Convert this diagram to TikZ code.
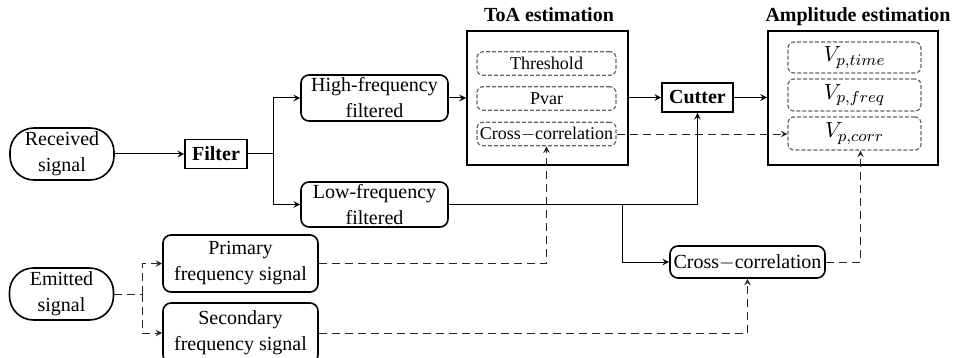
\documentclass[tikz,border=0pt]{standalone}
\usepackage{fontspec}
\setmainfont{Liberation Serif}
\usetikzlibrary{positioning}
\begin{document}
\begin{tikzpicture}[x=0.5pt, y=-0.5pt, >=stealth, line width=0.5pt,
        every node/.style={font=\fontsize{10}{13}\selectfont, align=center, inner sep=1pt},
        pill/.style={draw, line width=0.8pt, rounded corners=12pt, minimum width=52pt, minimum height=26pt},
        blk/.style={draw, line width=0.8pt, rounded corners=4pt, minimum width=77.5pt},
        sqbox/.style={draw, line width=0.8pt, font=\fontsize{10}{13}\selectfont\bfseries, minimum height=14.5pt},
        group/.style={draw, line width=1pt, minimum width=80.5pt, minimum height=67pt},
        sub/.style={draw, gray!80!black, text=black, line width=0.6pt, dash pattern=on 2pt off 1pt,
                    rounded corners=3pt, font=\fontsize{9}{11}\selectfont},
        dashline/.style={line width=0.45pt, black!85, dash pattern=on 4pt off 2.5pt}]
    \clip (0,0) rectangle (954,358);
    \node[pill] (recv) at (62,154) {Received\\signal};
    \node[pill] (emit) at (61.5,294) {Emitted\\signal};
    \node[sqbox, minimum width=31pt] (filter) at (216,154) {Filter};
    \node[blk, minimum width=73.5pt, minimum height=23pt] (high) at (374.5,98) {High-frequency\\filtered};
    \node[blk, minimum width=73.5pt, minimum height=22.5pt] (low) at (374.5,204.5) {Low-frequency\\filtered};
    \node[blk, minimum height=28.5pt] (primary) at (240.5,263.5) {Primary\\frequency signal};
    \node[blk, minimum height=30pt] (secondary) at (240.5,333) {Secondary\\frequency signal};
    \node[group] (toa) at (547.5,98) {};
    \node[font=\fontsize{10}{12}\selectfont\bfseries] (toatitle) at (549,15) {ToA estimation};
    \node[sub, minimum width=69.5pt, minimum height=11.75pt] (thres) at (546.5,63.5) {Threshold};
    \node[sub, minimum width=69.5pt, minimum height=11.75pt] (pvar) at (546.5,98.5) {Pvar};
    \node[sub, minimum width=69.5pt, minimum height=11.75pt] (tcorr) at (546.5,134) {Cross$-$correlation};
    \node[sqbox, minimum width=35.5pt] (cutter) at (697.5,97.5) {Cutter};
    \node[group, minimum width=85pt] (amp) at (853,98) {};
    \node[font=\fontsize{10}{12}\selectfont\bfseries] (amptitle) at (858,17) {Amplitude estimation};
    \node[sub, minimum width=66.5pt, minimum height=15.5pt, font=\fontsize{11}{13}\selectfont] (atime) at (854.5,57.5) {$V_{p,time}$};
    \node[sub, minimum width=66.5pt, minimum height=16pt, font=\fontsize{11}{13}\selectfont] (afreq) at (854.5,95) {$V_{p,freq}$};
    \node[sub, minimum width=66.5pt, minimum height=16.5pt, font=\fontsize{11}{13}\selectfont] (acorr) at (854.5,133.5) {$V_{p,corr}$};
    \node[blk, minimum height=16pt] (xcorr) at (747.5,262) {Cross$-$correlation};
    \coordinate (split) at (273,154);
    \coordinate (lowsplit) at (622,204);
    \coordinate (esplit) at (142,294);
    \draw[->] (recv) -- (filter);
    \draw (filter) -- (split);
    \draw[->] (split) |- (high);
    \draw[->] (split) |- (low);
    \draw[->] (high) -- (high -| toa.west);
    \draw[->] (toa.east |- cutter) -- (cutter);
    \draw[->] (cutter) -- (cutter -| amp.west);
    \draw[->] (low) -| (cutter);
    \draw[->] (lowsplit) |- (xcorr);
    \draw[dashline, ->] (tcorr) -- (tcorr -| acorr.west);
    \draw[dashline, ->] (xcorr) -| ([xshift=3pt]acorr.south);
    \draw[dashline, ->] (primary) -| (tcorr);
    \draw[dashline, ->] (secondary) -| (xcorr);
    \draw[dashline] (emit) -- (esplit);
    \draw[dashline, ->] (esplit) |- (primary);
    \draw[dashline, ->] (esplit) |- (secondary);
\end{tikzpicture}
\end{document}
